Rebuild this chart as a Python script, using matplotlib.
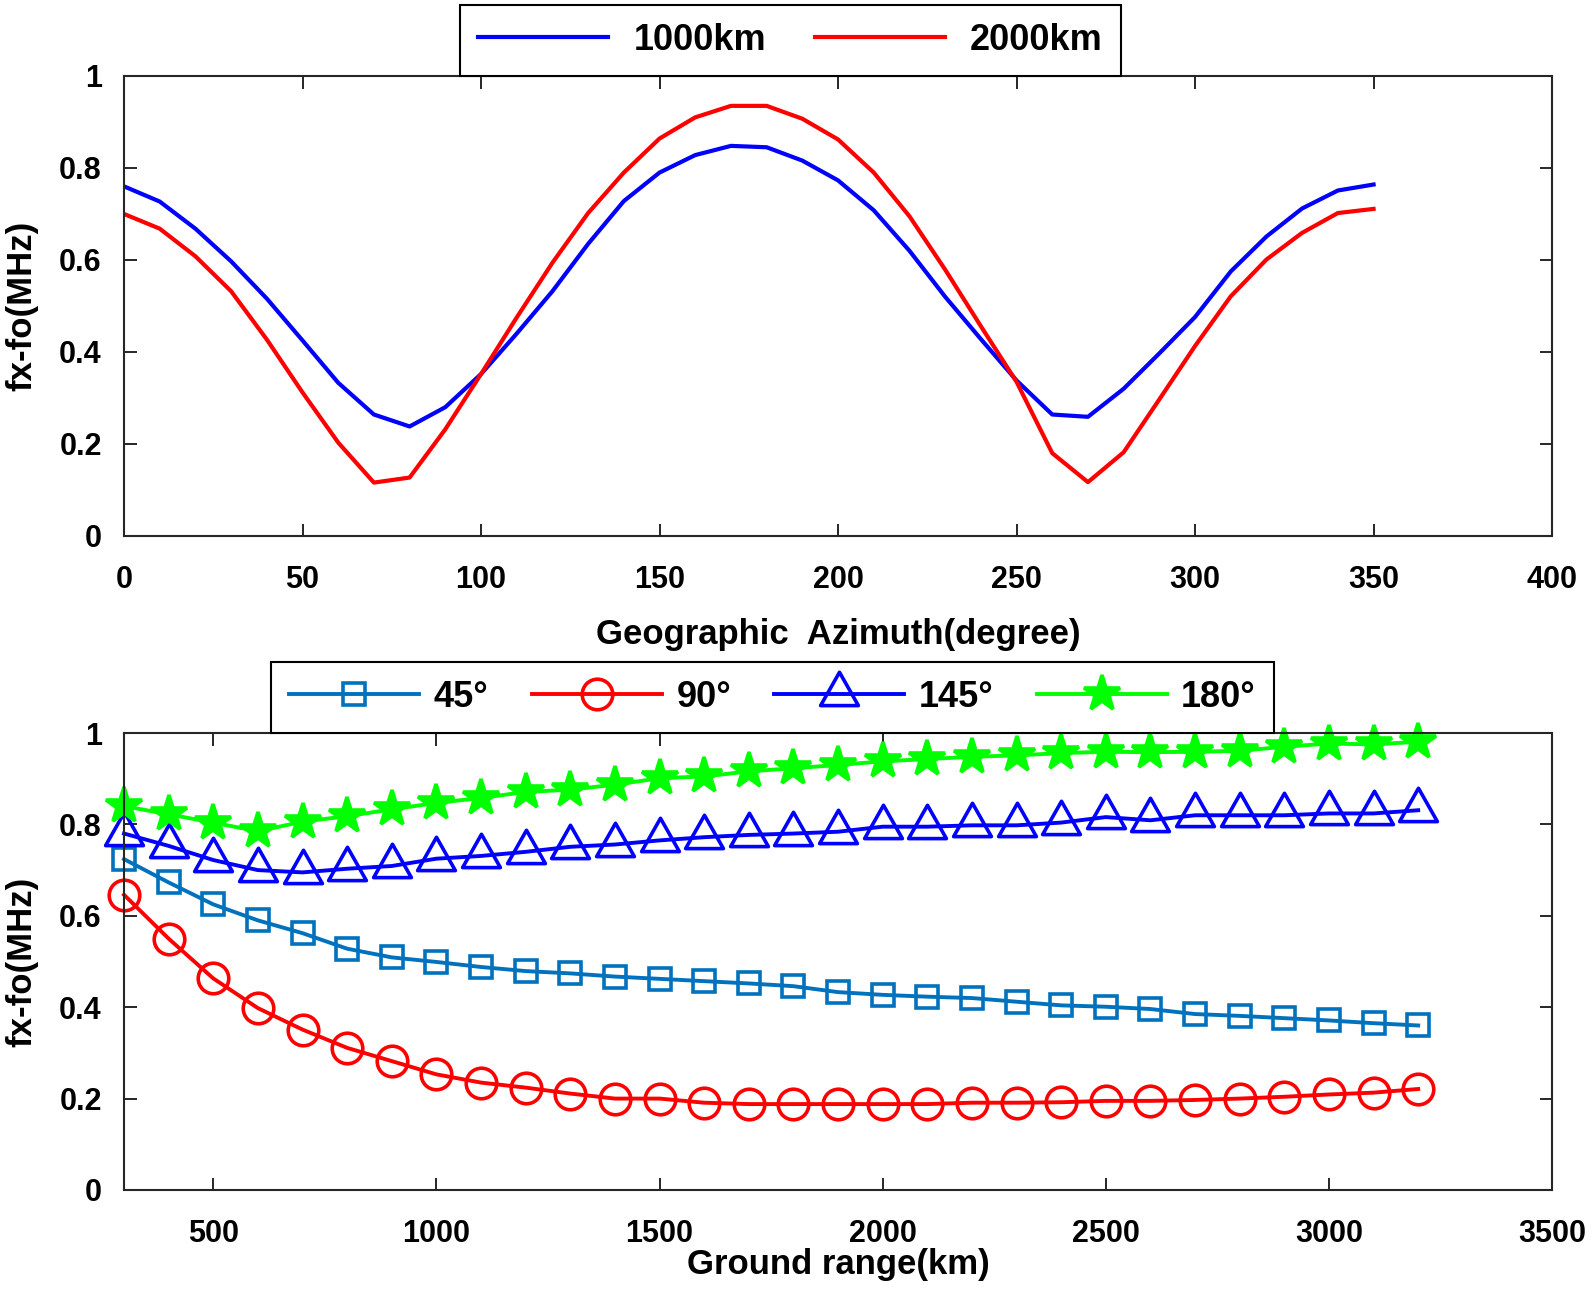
import matplotlib
matplotlib.use("Agg")
import matplotlib.pyplot as plt
import numpy as np
from matplotlib.path import Path
from matplotlib.ticker import FuncFormatter, MultipleLocator

plt.rcParams["font.family"] = ["Liberation Sans", "DejaVu Sans"]
plt.rcParams["font.weight"] = "bold"

# --- top panel: fx-fo vs geographic azimuth ---
azimuth = list(range(0, 360, 10))
fxfo_1000km = [0.760, 0.727, 0.668, 0.597, 0.516, 0.425, 0.333, 0.264, 0.238, 0.280,
               0.352, 0.440, 0.532, 0.635, 0.728, 0.790, 0.828, 0.848, 0.845, 0.816,
               0.773, 0.708, 0.620, 0.520, 0.428, 0.338, 0.264, 0.259, 0.320, 0.397,
               0.476, 0.575, 0.651, 0.712, 0.751, 0.764]
fxfo_2000km = [0.700, 0.668, 0.608, 0.532, 0.427, 0.312, 0.203, 0.116, 0.127, 0.232,
               0.352, 0.475, 0.594, 0.702, 0.790, 0.864, 0.910, 0.935, 0.935, 0.907,
               0.862, 0.790, 0.695, 0.579, 0.456, 0.335, 0.180, 0.117, 0.182, 0.297,
               0.413, 0.521, 0.601, 0.659, 0.702, 0.711]
top_labels = ["1000km", "2000km"]

# --- bottom panel: fx-fo vs ground range ---
ground_range = list(range(300, 3300, 100))
fxfo_45 = [0.724, 0.673, 0.625, 0.590, 0.562, 0.528, 0.509, 0.499, 0.488, 0.479,
           0.474, 0.467, 0.462, 0.457, 0.452, 0.446, 0.433, 0.427, 0.423, 0.420,
           0.412, 0.404, 0.401, 0.396, 0.385, 0.381, 0.376, 0.371, 0.365, 0.360]
fxfo_90 = [0.646, 0.550, 0.463, 0.398, 0.351, 0.311, 0.282, 0.253, 0.235, 0.224,
           0.211, 0.200, 0.200, 0.191, 0.188, 0.188, 0.188, 0.188, 0.188, 0.191,
           0.191, 0.192, 0.195, 0.195, 0.197, 0.200, 0.204, 0.209, 0.213, 0.221]
fxfo_145 = [0.780, 0.753, 0.722, 0.700, 0.695, 0.703, 0.709, 0.725, 0.731, 0.740,
            0.751, 0.756, 0.765, 0.772, 0.777, 0.780, 0.784, 0.795, 0.795, 0.798,
            0.798, 0.804, 0.816, 0.809, 0.820, 0.820, 0.820, 0.824, 0.824, 0.831]
fxfo_180 = [0.840, 0.822, 0.804, 0.785, 0.806, 0.818, 0.833, 0.847, 0.858, 0.871,
            0.876, 0.887, 0.901, 0.905, 0.916, 0.923, 0.930, 0.938, 0.943, 0.948,
            0.951, 0.956, 0.959, 0.958, 0.959, 0.961, 0.970, 0.977, 0.975, 0.981]
bottom_labels = ["45°", "90°", "145°", "180°"]

# MATLAB-style triangle: data point sits at the centroid
tri = Path([(0, 1), (-0.85, -0.5), (0.85, -0.5), (0, 1)],
           [Path.MOVETO, Path.LINETO, Path.LINETO, Path.CLOSEPOLY])


def style_axes(ax):
    for s in ax.spines.values():
        s.set_linewidth(1.5)
        s.set_color("#262626")
    ax.tick_params(direction="in", length=9, width=1.4, top=True, right=True,
                   labelsize=22, pad=16, color="#262626")
    ax.tick_params(axis="x", pad=21)
    ax.yaxis.set_major_locator(MultipleLocator(0.2))
    ax.yaxis.set_major_formatter(FuncFormatter(lambda v, p: f"{v:g}"))


fig = plt.figure(figsize=(15.94, 13.12), dpi=100)
ax1 = fig.add_axes([0.0778, 0.5915, 0.8959, 0.3506])
ax2 = fig.add_axes([0.0778, 0.0930, 0.8959, 0.3483])

ax1.plot(azimuth, fxfo_1000km, color="#0000FF", lw=3, label=top_labels[0])
ax1.plot(azimuth, fxfo_2000km, color="#FF0000", lw=3, label=top_labels[1])
ax1.set_xlim(0, 400)
ax1.set_ylim(0, 1)
ax1.xaxis.set_major_locator(MultipleLocator(50))
style_axes(ax1)
ax1.set_xlabel("Geographic  Azimuth(degree)", fontsize=25, fontweight="bold")
ax1.set_ylabel("fx-fo(MHz)", fontsize=25, fontweight="bold")
ax1.xaxis.set_label_coords(0.5, -0.178)
ax1.yaxis.set_label_coords(-0.06, 0.5)
leg1 = ax1.legend(loc="lower left", bbox_to_anchor=(0.2353, 1.0), ncol=2,
                  fontsize=26, handlelength=3.6, handletextpad=0.7,
                  columnspacing=1.35, borderpad=0.5, borderaxespad=0,
                  fancybox=False, edgecolor="black", framealpha=1)
leg1.get_frame().set_linewidth(1.5)

kw = dict(lw=2.8, mew=2.6, clip_on=False)
ax2.plot(ground_range, fxfo_45, color="#0072BD", marker="s", ms=16, mfc="none",
         label=bottom_labels[0], **kw)
ax2.plot(ground_range, fxfo_90, color="#FF0000", marker="o", ms=22, mfc="none",
         label=bottom_labels[1], **kw)
ax2.plot(ground_range, fxfo_145, color="#0000FF", marker=tri, ms=32, mfc="none",
         label=bottom_labels[2], **kw)
ax2.plot(ground_range, fxfo_180, color="#00FF00", marker="*", ms=27, mfc="#00FF00",
         label=bottom_labels[3], **kw)
ax2.set_xlim(300, 3500)
ax2.set_ylim(0, 1)
ax2.set_xticks(np.arange(500, 3501, 500))
style_axes(ax2)
ax2.set_xlabel("Ground range(km)", fontsize=25, fontweight="bold")
ax2.set_ylabel("fx-fo(MHz)", fontsize=25, fontweight="bold")
ax2.xaxis.set_label_coords(0.5, -0.128)
ax2.yaxis.set_label_coords(-0.06, 0.5)
leg2 = ax2.legend(loc="lower left", bbox_to_anchor=(0.1032, 1.0), ncol=4,
                  fontsize=26, handlelength=3.6, handletextpad=0.4,
                  columnspacing=1.2, borderpad=0.5, borderaxespad=0,
                  numpoints=1, fancybox=False, edgecolor="black", framealpha=1)
leg2.get_frame().set_linewidth(1.5)

fig.savefig("out.png", dpi=100)
